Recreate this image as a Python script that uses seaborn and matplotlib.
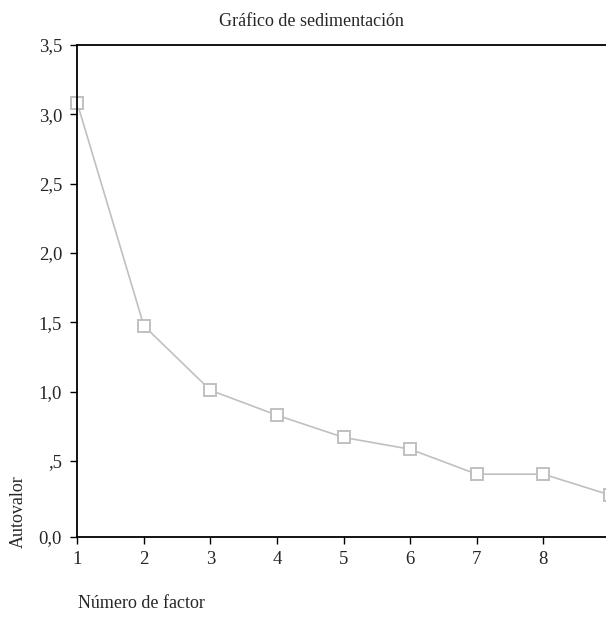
import matplotlib
matplotlib.use("Agg")
import pandas as pd
import matplotlib.pyplot as plt
import seaborn as sns

# =========================================================================
# DATOS
# =========================================================================
factores = [1, 2, 3, 4, 5, 6, 7, 8, 9]
autovalores = [3.08, 1.475, 1.01, 0.83, 0.67, 0.585, 0.405, 0.405, 0.255]

y_ticks = [-0.048, 0.5, 1.0, 1.5, 2.0, 2.5, 3.0, 3.5]
y_labels = ["0,0", ",5", "1,0", "1,5", "2,0", "2,5", "3,0", "3,5"]
x_labels = ["1", "2", "3", "4", "5", "6", "7", "8", "9"]

df = pd.DataFrame({"factor": factores, "autovalor": autovalores})

# =========================================================================
# ESTILO
# =========================================================================
sns.set_style("white")
plt.rcParams["font.family"] = ["Liberation Serif", "DejaVu Serif"]

fig = plt.figure(figsize=(6.06, 6.22), dpi=100)
ax = fig.add_axes([77.3 / 606, 85 / 622, (610 - 77.3) / 606, (537 - 45) / 622])

sns.lineplot(data=df, x="factor", y="autovalor", ax=ax, color="#c0c0c0",
             linewidth=1.2, marker="s", markersize=9, markerfacecolor="white",
             markeredgecolor="#c0c0c0", markeredgewidth=1.4, clip_on=False)

ax.set_xlim(1, 9)
ax.set_ylim(-0.048, 3.5)
ax.set_xticks(factores)
ax.set_xticklabels(x_labels)
ax.set_yticks(y_ticks)
ax.set_yticklabels(y_labels)
ax.set_xlabel("")
ax.set_ylabel("")

ax.tick_params(axis="both", direction="out", length=5, width=1, color="black",
               labelsize=13.5, pad=5, left=True, bottom=True)
ax.tick_params(axis="y", pad=6)

for lado in ["left", "bottom", "top"]:
    ax.spines[lado].set_visible(True)
    ax.spines[lado].set_color("black")
    ax.spines[lado].set_linewidth(1.3)
ax.spines["right"].set_visible(False)

# Textos
fig.text(311 / 606, 1 - 22 / 622, "Gráfico de sedimentación", ha="center",
         va="center", fontsize=13)
fig.text(18 / 606, 1 - 512 / 622, "Autovalor", ha="center", va="center",
         rotation=90, fontsize=13)
fig.text(78 / 606, 1 - 603 / 622, "Número de factor", ha="left",
         va="center", fontsize=13)

fig.savefig("out.png", dpi=100)
